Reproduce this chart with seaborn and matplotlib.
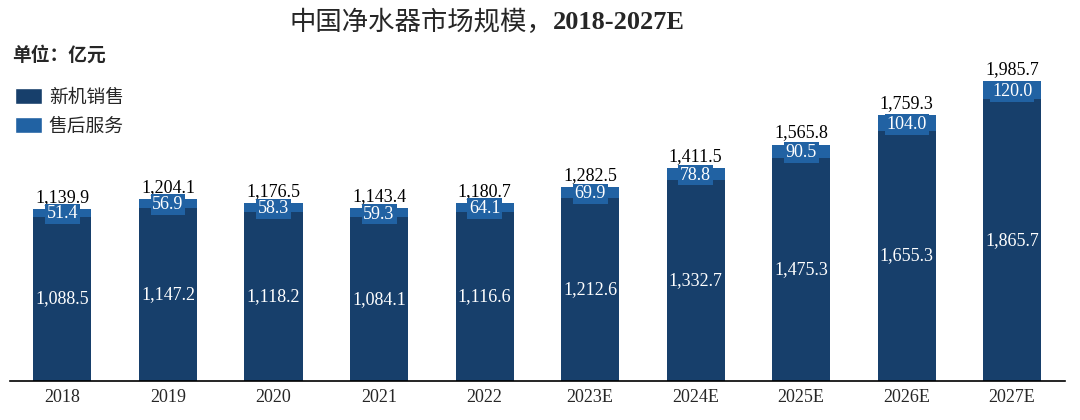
import seaborn as sns
import matplotlib.pyplot as plt
import pandas as pd
from matplotlib.patches import Patch

sns.set_style("white")
plt.rcParams['font.family'] = ['Liberation Serif', 'Noto Sans CJK SC', 'DejaVu Sans']

years = ['2018', '2019', '2020', '2021', '2022', '2023E', '2024E', '2025E', '2026E', '2027E']
new_sales = [1088.5, 1147.2, 1118.2, 1084.1, 1116.6, 1212.6, 1332.7, 1475.3, 1655.3, 1865.7]
after_sales = [51.4, 56.9, 58.3, 59.3, 64.1, 69.9, 78.8, 90.5, 104.0, 120.0]
totals = [1139.9, 1204.1, 1176.5, 1143.4, 1180.7, 1282.5, 1411.5, 1565.8, 1759.3, 1985.7]

dark = '#173f6b'
light = '#2162a3'

df = pd.DataFrame({'year': years, 'new': new_sales, 'after': after_sales, 'total': totals})

fig = plt.figure(figsize=(10.8, 4.2), dpi=100)
ax = fig.add_axes([0.009, 0.093, 0.977, 0.764])

sns.barplot(data=df, x='year', y='total', color=light, width=0.55, saturation=1,
            linewidth=0, edgecolor='none', ax=ax)
sns.barplot(data=df, x='year', y='new', color=dark, width=0.55, saturation=1,
            linewidth=0, edgecolor='none', ax=ax)

for i, row in df.iterrows():
    ax.text(i, row['total'] + 20, f"{row['total']:,.1f}", ha='center', va='bottom',
            fontsize=13, color='black')
    ax.text(i, row['new'] + row['after'] / 2 - 8, f"{row['after']:,.1f}", ha='center', va='center',
            fontsize=13, color='white',
            bbox=dict(boxstyle='square,pad=0.1', facecolor=light, edgecolor='none'))
    ax.text(i, row['new'] / 2, f"{row['new']:,.1f}", ha='center', va='center',
            fontsize=13, color='white')

ax.set_ylim(0, 2126)
ax.set_xlim(-0.5, 9.5)
ax.set_yticks([])
ax.set_xlabel('')
ax.set_ylabel('')
ax.tick_params(axis='x', length=0, labelsize=13, pad=6)
for s in ['top', 'right', 'left']:
    ax.spines[s].set_visible(False)
ax.spines['bottom'].set_color('black')
ax.spines['bottom'].set_linewidth(1.2)

fig.text(0.512, 0.947, '中国净水器市场规模，', ha='right', va='center', fontsize=19)
fig.text(0.512, 0.947, '2018-2027E', ha='left', va='center', fontsize=19, fontweight='bold')
fig.text(0.011, 0.868, '单位：亿元', ha='left', va='center', fontsize=13.5, fontweight='bold')

handles = [Patch(facecolor=dark, label='新机销售'), Patch(facecolor=light, label='售后服务')]
fig.legend(handles=handles, loc='upper left', bbox_to_anchor=(0.014, 0.79), frameon=False,
           fontsize=13.5, handlelength=1.45, handleheight=0.95, labelspacing=0.55,
           handletextpad=0.35, borderaxespad=0, borderpad=0)

plt.savefig('out.png', dpi=100)
